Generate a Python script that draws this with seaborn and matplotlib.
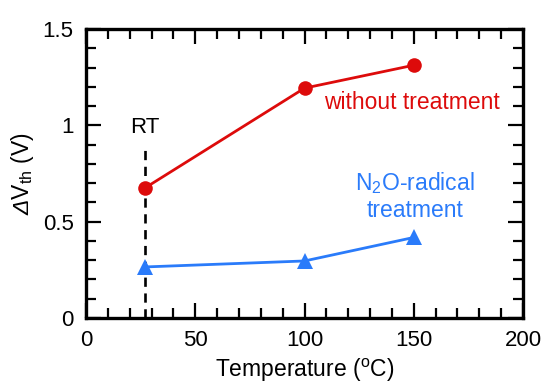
import matplotlib
matplotlib.use("Agg")
import matplotlib.pyplot as plt
import seaborn as sns
import pandas as pd
from matplotlib.ticker import MultipleLocator

sns.set_style("ticks")
plt.rcParams['font.family'] = ['Liberation Sans', 'DejaVu Sans']
plt.rcParams['mathtext.fontset'] = 'custom'
plt.rcParams['mathtext.rm'] = 'Liberation Sans'
plt.rcParams['mathtext.it'] = 'Liberation Sans:italic'
plt.rcParams['mathtext.sf'] = 'Liberation Sans:italic'
plt.rcParams['text.color'] = 'black'
plt.rcParams['axes.labelcolor'] = 'black'
plt.rcParams['xtick.color'] = 'black'
plt.rcParams['ytick.color'] = 'black'

temps = [27, 100, 150]
without_treatment = [0.675, 1.193, 1.312]
n2o_treatment = [0.265, 0.296, 0.418]
series_names = ["without treatment", "N$_2$O-radical\ntreatment"]

df = pd.DataFrame({
    "T": temps * 2,
    "dV": without_treatment + n2o_treatment,
    "s": [series_names[0]] * 3 + [series_names[1]] * 3,
})

red = "#DD0B0B"
blue = "#2A7BFA"

fig = plt.figure(figsize=(5.43, 3.84), dpi=100)
ax = fig.add_axes([86/543, 1 - 318/384, (523-86)/543, (318-29)/384])

ax.plot([27, 27], [0, 0.9], ls=(0, (3.5, 2.5)), color="black", lw=1.9, zorder=1)

sns.lineplot(data=df[df.s == series_names[0]], x="T", y="dV", ax=ax, color=red,
             marker="o", markersize=10.5, markeredgewidth=0, lw=2.0, legend=False, zorder=3)
sns.lineplot(data=df[df.s == series_names[1]], x="T", y="dV", ax=ax, color=blue,
             marker="^", markersize=11, markeredgewidth=0, lw=2.0, legend=False, zorder=3)

ax.set_xlim(0, 200)
ax.set_ylim(0, 1.5)
ax.xaxis.set_minor_locator(MultipleLocator(10))
ax.yaxis.set_minor_locator(MultipleLocator(0.1))
ax.set_xticks([0, 50, 100, 150, 200])
ax.set_xticklabels(["0", "50", "100", "150", "200"])
ax.set_yticks([0, 0.5, 1, 1.5])
ax.set_yticklabels(["0", "0.5", "1", "1.5"])

ax.tick_params(which="both", direction="in", top=True, right=True, width=1.6, color="black")
ax.tick_params(which="major", length=11, labelsize=16, pad=9)
ax.tick_params(which="minor", length=7.5)
for sp in ax.spines.values():
    sp.set_linewidth(2.4)
    sp.set_color("black")

ax.set_xlabel("Temperature ($^{\\mathrm{o}}$C)", fontsize=16.5, labelpad=4)
ax.set_ylabel("$\\mathsf{Δ}$V$_{\\mathrm{th}}$ (V)", fontsize=16.5, labelpad=5)

ax.text(27, 0.99, "RT", ha="center", va="center", fontsize=16)
ax.text(149, 1.12, series_names[0], ha="center", va="center", fontsize=16.5, color=red)
ax.text(150.5, 0.633, series_names[1], ha="center", va="center", fontsize=16.5, color=blue,
        linespacing=1.15)

fig.savefig("out.png", dpi=100)
